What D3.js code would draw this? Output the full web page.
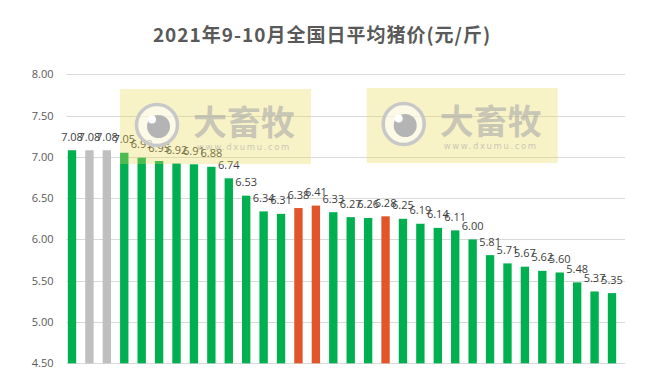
<!DOCTYPE html>
<html>
<head>
<meta charset="utf-8">
<script src="https://cdn.jsdelivr.net/npm/d3@7"></script>
<style>
  body { margin: 0; background: #fff; }
  svg { display: block; }
</style>
</head>
<body>
<svg width="650" height="378"></svg>
<script>
// daily average pig price, Sept-Oct 2021
const prices = [7.08, 7.08, 7.08, 7.05, 6.99, 6.95, 6.92, 6.91, 6.88, 6.74,
                6.53, 6.34, 6.31, 6.38, 6.41, 6.33, 6.27, 6.26, 6.28, 6.25,
                6.19, 6.14, 6.11, 6.00, 5.81, 5.71, 5.67, 5.62, 5.60, 5.48,
                5.37, 5.35];
// g = green, s = grey, r = red
const barKinds = ['g', 's', 's', 'g', 'g', 'g', 'g', 'g', 'g', 'g',
                  'g', 'g', 'g', 'r', 'r', 'g', 'g', 'g', 'r', 'g',
                  'g', 'g', 'g', 'g', 'g', 'g', 'g', 'g', 'g', 'g',
                  'g', 'g'];
const yTicks = [4.5, 5.0, 5.5, 6.0, 6.5, 7.0, 7.5, 8.0];
const title = '2021年9-10月全国日平均猪价(元/斤)';

const colors = { g: '#00b050', s: '#bfbfbf', r: '#e2542a' };

const svg = d3.select('svg');

const x = d3.scaleBand()
  .domain(d3.range(prices.length))
  .range([63.3, 620.7])
  .paddingInner(0.52)
  .paddingOuter(0.26);

const y = d3.scaleLinear()
  .domain([4.5, 8])
  .range([363.3, 74.3]);

// title
svg.append('text')
  .attr('x', 322)
  .attr('y', 41.5)
  .attr('text-anchor', 'middle')
  .attr('font-family', '"Noto Sans CJK SC", "Noto Sans", sans-serif')
  .attr('font-weight', 'bold')
  .attr('font-size', 19)
  .attr('letter-spacing', 1)
  .attr('fill', '#595959')
  .text(title);

// grid lines
svg.append('g')
  .attr('class', 'grid')
  .selectAll('line')
  .data(yTicks)
  .join('line')
  .attr('x1', 66.5)
  .attr('x2', 625)
  .attr('y1', d => Math.round(y(d)) + 0.5)
  .attr('y2', d => Math.round(y(d)) + 0.5)
  .attr('stroke', '#d9d9d9')
  .attr('stroke-width', 1);

// y axis labels, no domain line
const yAxis = d3.axisLeft(y)
  .tickValues(yTicks)
  .tickSize(0)
  .tickPadding(0)
  .tickFormat(d3.format('.2f'));

const yG = svg.append('g')
  .attr('transform', 'translate(53.5,0)')
  .call(yAxis);
yG.select('.domain').remove();
yG.selectAll('text')
  .attr('font-family', '"Open Sans", "Liberation Sans", sans-serif')
  .attr('font-size', 11)
  .attr('fill', '#595959');

// bars
svg.append('g')
  .selectAll('rect')
  .data(prices)
  .join('rect')
  .attr('x', (d, i) => x(i))
  .attr('width', x.bandwidth())
  .attr('y', d => y(d))
  .attr('height', d => y(4.5) - y(d))
  .attr('fill', (d, i) => colors[barKinds[i]]);

// value labels
svg.append('g')
  .selectAll('text')
  .data(prices)
  .join('text')
  .attr('x', (d, i) => x(i) + x.bandwidth() / 2)
  .attr('y', d => y(d) - 9.5)
  .attr('text-anchor', 'middle')
  .attr('font-family', '"Open Sans", "Liberation Sans", sans-serif')
  .attr('font-size', 11)
  .attr('fill', '#404040')
  .text(d => d.toFixed(2));

// watermarks laid over the chart
function watermark(left, top) {
  const w = svg.append('g').attr('transform', `translate(${left},${top})`);
  w.append('rect')
    .attr('width', 191)
    .attr('height', 75)
    .attr('fill', 'rgb(232,214,80)')
    .attr('fill-opacity', 0.32);
  w.append('circle')
    .attr('cx', 37).attr('cy', 36).attr('r', 20.5)
    .attr('fill', '#fff').attr('fill-opacity', 0.55)
    .attr('stroke', '#c8c8c8').attr('stroke-width', 3.5);
  w.append('circle')
    .attr('cx', 38.5).attr('cy', 37.5).attr('r', 11.5)
    .attr('fill', '#b4b4b4');
  w.append('circle')
    .attr('cx', 32).attr('cy', 30.5).attr('r', 4)
    .attr('fill', '#fff');
  w.append('text')
    .attr('x', 124).attr('y', 46)
    .attr('text-anchor', 'middle')
    .attr('font-family', '"Noto Sans CJK SC", sans-serif')
    .attr('font-weight', 'bold')
    .attr('font-size', 34)
    .attr('fill', '#a8a8a8')
    .attr('fill-opacity', 0.6)
    .text('大畜牧');
  w.append('text')
    .attr('x', 124).attr('y', 61)
    .attr('text-anchor', 'middle')
    .attr('font-family', '"DejaVu Sans", sans-serif')
    .attr('font-size', 8.5)
    .attr('letter-spacing', 1.6)
    .attr('fill', '#a8a8a8')
    .attr('fill-opacity', 0.6)
    .text('www.dxumu.com');
}
watermark(120, 89);
watermark(366.7, 88);
</script>
</body>
</html>
